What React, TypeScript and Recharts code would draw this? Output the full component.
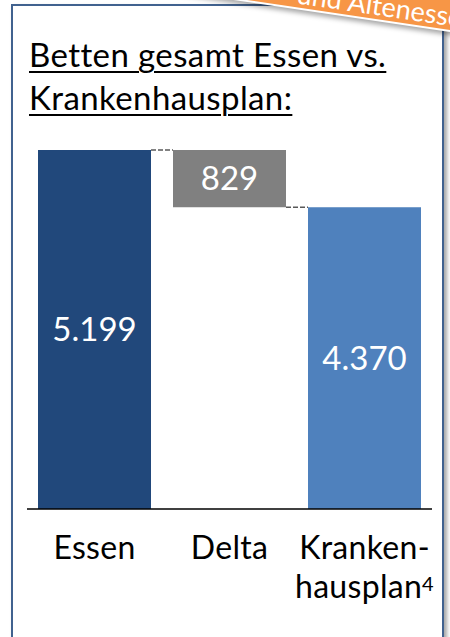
import { BarChart, Bar, XAxis, YAxis, Cell, LabelList } from "recharts";

const CATEGORIES = ["Essen", "Delta", "Krankenhausplan"];
const VALUES = [5199, 829, 4370];
const TICK_LINES = [["Essen"], ["Delta"], ["Kranken-", "hausplan"]];
const TICK_NOTES = ["", "", "4"];
const COLORS = ["#21487b", "#808080", "#4f81bd"];

// waterfall: delta floats on top of the plan value
const BASES = [0, VALUES[2], 0];

const data = CATEGORIES.map((name, i) => ({
  name,
  base: BASES[i],
  value: VALUES[i],
}));

const FONT = "Lato, 'Noto Sans', sans-serif";
const HALF_GAP = 11;

const fmt = (v: number) => String(v).replace(/\B(?=(\d{3})+(?!\d))/g, ".");

const XTick = (props: any) => {
  const { x, y, payload } = props;
  const i = CATEGORIES.indexOf(payload.value);
  const lines = TICK_LINES[i] || [payload.value];
  const note = TICK_NOTES[i];
  return (
    <text
      x={x}
      textAnchor="middle"
      fontSize={32}
      letterSpacing={0.3}
      fill="#000"
      fontFamily={FONT}
    >
      {lines.map((l, k) => (
        <tspan key={k} x={x} y={y + 50 + k * 39}>
          {l}
          {k === lines.length - 1 && note ? (
            <tspan fontSize={20} dy={-7}>
              {note}
            </tspan>
          ) : null}
        </tspan>
      ))}
    </text>
  );
};

const StepBar = (props: any) => {
  const { x, y, width, height, fill, index } = props;
  const gap = HALF_GAP * 2;
  let connector = null;
  if (index === 0) {
    connector = <line x1={x + width} y1={y} x2={x + width + gap} y2={y} />;
  } else if (index === 1) {
    connector = (
      <line x1={x + width} y1={y + height} x2={x + width + gap} y2={y + height} />
    );
  }
  return (
    <g>
      <rect x={x} y={y} width={width} height={height} fill={fill} />
      <g stroke="#595959" strokeWidth={1.5} strokeDasharray="5 2">
        {connector}
      </g>
    </g>
  );
};

export default function App() {
  return (
    <div
      style={{
        position: "absolute",
        left: 0,
        top: 0,
        width: 450,
        height: 637,
        overflow: "hidden",
        background: "#fff",
        fontFamily: FONT,
      }}
    >
      {/* card */}
      <div
        style={{
          position: "absolute",
          left: 11,
          top: 4,
          width: 429,
          height: 640,
          border: "2px solid #41628f",
          boxShadow: "3px 3px 4px rgba(0,0,0,0.35)",
        }}
      />
      <div
        style={{
          position: "absolute",
          left: 29,
          top: 33,
          fontSize: 33,
          letterSpacing: 0.4,
          lineHeight: "43px",
          color: "#000",
          textDecoration: "underline",
          textDecorationThickness: 2,
          textUnderlineOffset: 4,
        }}
      >
        <div>Betten gesamt Essen vs.</div>
        <div>Krankenhausplan:</div>
      </div>
      <div style={{ position: "absolute", left: 0, top: 0 }}>
        <BarChart
          width={450}
          height={637}
          data={data}
          margin={{ top: 150, right: 18, left: 27, bottom: 0 }}
          barCategoryGap={HALF_GAP}
        >
          <XAxis
            dataKey="name"
            height={128}
            tickLine={false}
            tickSize={0}
            tickMargin={0}
            axisLine={{ stroke: "#000", strokeWidth: 1.5 }}
            tick={<XTick />}
            interval={0}
          />
          <YAxis hide domain={[0, "dataMax"]} />
          <Bar dataKey="base" stackId="w" fill="transparent" isAnimationActive={false} />
          <Bar dataKey="value" stackId="w" shape={<StepBar />} isAnimationActive={false}>
            {data.map((_, i) => (
              <Cell key={`c-${i}`} fill={COLORS[i]} />
            ))}
            <LabelList
              dataKey="value"
              position="center"
              formatter={(v: any) => fmt(Number(v))}
              fill="#fff"
              fontSize={33}
              fontFamily={FONT}
            />
          </Bar>
        </BarChart>
      </div>
      {/* orange ribbon */}
      <div
        style={{
          position: "absolute",
          left: 47,
          top: -40,
          width: 450,
          height: 40,
          background: "#f79646",
          transformOrigin: "200px 100%",
          transform: "rotate(8.4deg)",
          boxShadow: "0 2px 0 #fff, 0 5px 5px rgba(0,0,0,0.35)",
        }}
      >
        <span
          style={{
            position: "absolute",
            left: 249,
            bottom: 1,
            fontSize: 27,
            lineHeight: "27px",
            color: "#fff",
            whiteSpace: "nowrap",
          }}
        >
          und Altenessen
        </span>
      </div>
    </div>
  );
}
